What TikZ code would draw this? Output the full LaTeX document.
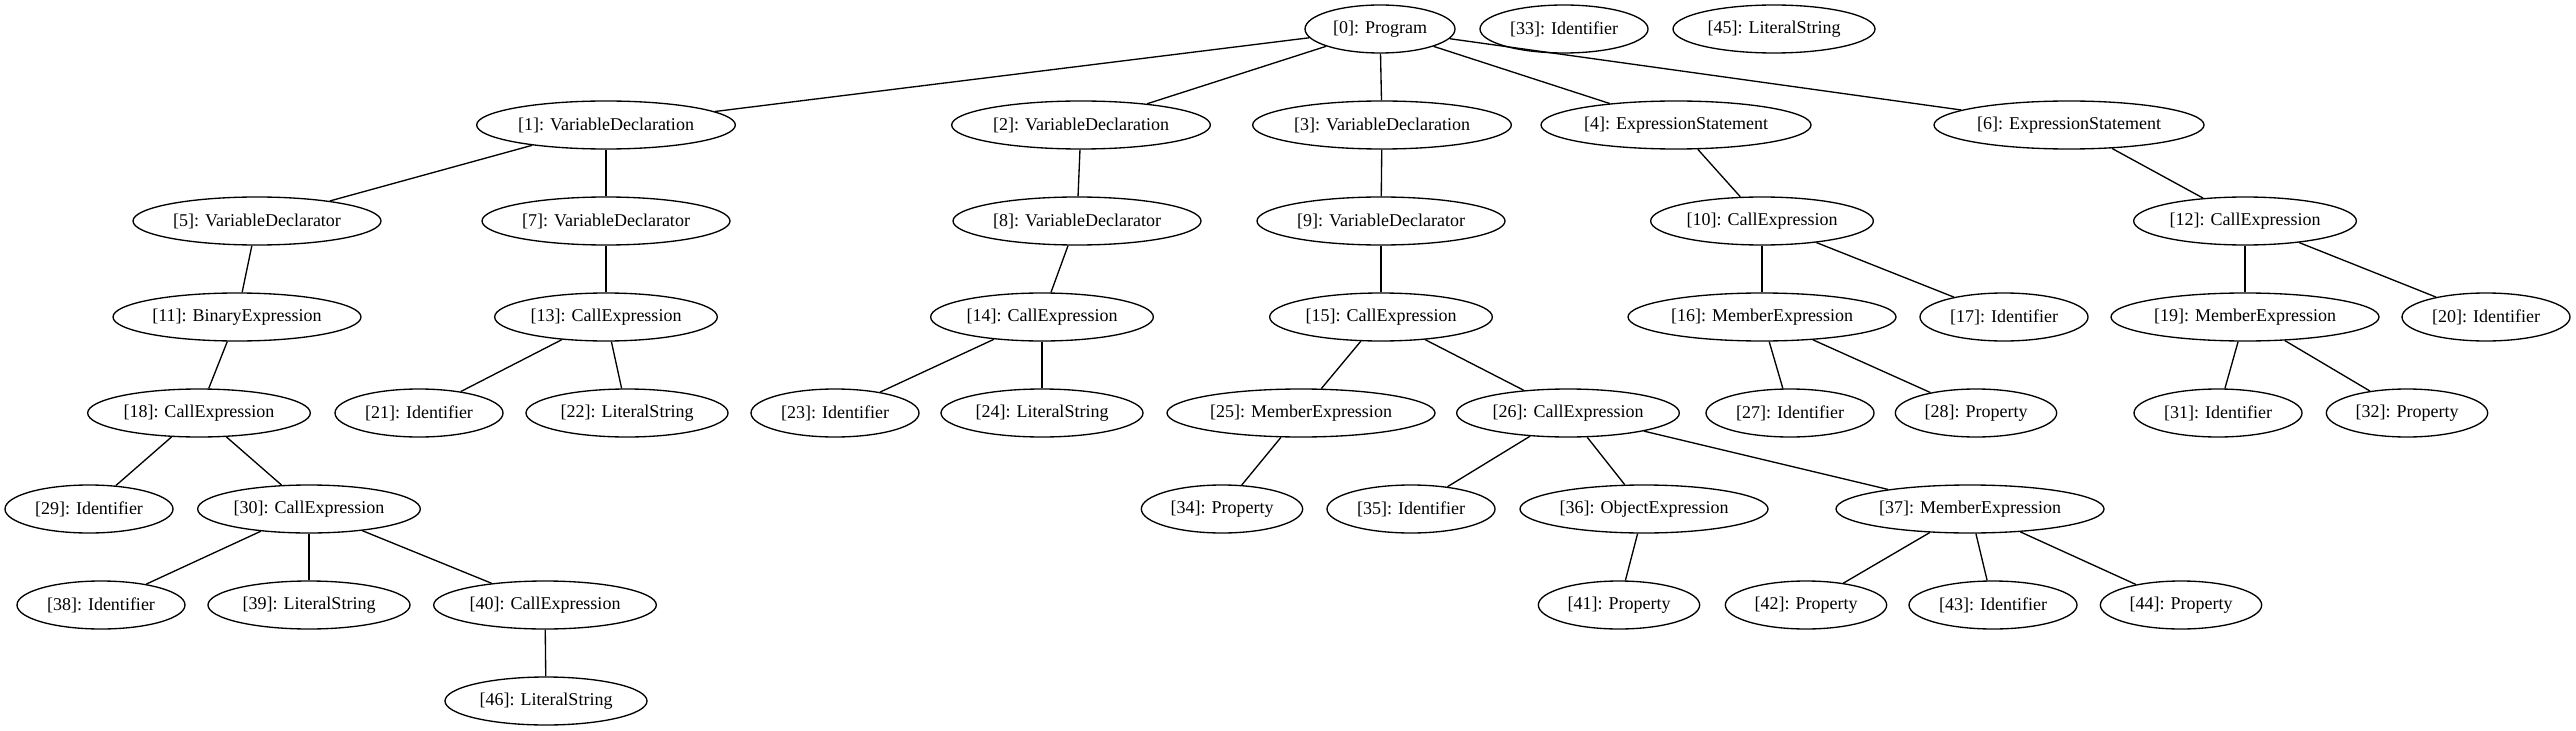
\documentclass[tikz,border=0pt]{standalone}
\usepackage{fontspec}
\setmainfont{Liberation Serif}
\usepackage{tikz}
\usetikzlibrary{shapes.geometric}

\begin{document}
\begin{tikzpicture}[
  x=0.75pt, y=-0.75pt,
  ast/.style={draw, ellipse, line width=1pt, inner sep=0pt, minimum height=36pt, font=\fontsize{13.5}{16}\selectfont},
  prog/.style={ast, minimum width=112.5pt},
  ident/.style={ast, minimum width=126pt},
  prop/.style={ast, minimum width=121pt},
  lit/.style={ast, minimum width=151.5pt},
  call/.style={ast, minimum width=167pt},
  decl/.style={ast, minimum width=186pt},
  vdecl/.style={ast, minimum width=194pt},
  member/.style={ast, minimum width=201pt},
  stmt/.style={ast, minimum width=202.5pt},
  link/.style={line width=1pt}
]
\useasboundingbox (0,0) rectangle (2576,731);

\node[prog] (n0) at (1380,29) {[0]: Program};
\node[ident] (n33) at (1564,29) {[33]: Identifier};
\node[lit] (n45) at (1774,29) {[45]: LiteralString};

\node[vdecl] (n1) at (606,125) {[1]: VariableDeclaration};
\node[vdecl] (n2) at (1081,125) {[2]: VariableDeclaration};
\node[vdecl] (n3) at (1382,125) {[3]: VariableDeclaration};
\node[stmt] (n4) at (1676,125) {[4]: ExpressionStatement};
\node[stmt] (n6) at (2069,125) {[6]: ExpressionStatement};

\node[decl] (n5) at (257,221) {[5]: VariableDeclarator};
\node[decl] (n7) at (606,221) {[7]: VariableDeclarator};
\node[decl] (n8) at (1077,221) {[8]: VariableDeclarator};
\node[decl] (n9) at (1381,221) {[9]: VariableDeclarator};
\node[call] (n10) at (1762,221) {[10]: CallExpression};
\node[call] (n12) at (2245,221) {[12]: CallExpression};

\node[decl] (n11) at (237,317) {[11]: BinaryExpression};
\node[call] (n13) at (606,317) {[13]: CallExpression};
\node[call] (n14) at (1042,317) {[14]: CallExpression};
\node[call] (n15) at (1381,317) {[15]: CallExpression};
\node[member] (n16) at (1762,317) {[16]: MemberExpression};
\node[ident] (n17) at (2004,317) {[17]: Identifier};
\node[member] (n19) at (2245,317) {[19]: MemberExpression};
\node[ident] (n20) at (2486,317) {[20]: Identifier};

\node[call] (n18) at (199,413) {[18]: CallExpression};
\node[ident] (n21) at (419,413) {[21]: Identifier};
\node[lit] (n22) at (627,413) {[22]: LiteralString};
\node[ident] (n23) at (835,413) {[23]: Identifier};
\node[lit] (n24) at (1042,413) {[24]: LiteralString};
\node[member] (n25) at (1301,413) {[25]: MemberExpression};
\node[call] (n26) at (1568,413) {[26]: CallExpression};
\node[ident] (n27) at (1790,413) {[27]: Identifier};
\node[prop] (n28) at (1976,413) {[28]: Property};
\node[ident] (n31) at (2218,413) {[31]: Identifier};
\node[prop] (n32) at (2407,413) {[32]: Property};

\node[ident] (n29) at (89,509) {[29]: Identifier};
\node[call] (n30) at (309,509) {[30]: CallExpression};
\node[prop] (n34) at (1222,509) {[34]: Property};
\node[ident] (n35) at (1411,509) {[35]: Identifier};
\node[decl] (n36) at (1644,509) {[36]: ObjectExpression};
\node[member] (n37) at (1970,509) {[37]: MemberExpression};

\node[ident] (n38) at (101,605) {[38]: Identifier};
\node[lit] (n39) at (309,605) {[39]: LiteralString};
\node[call] (n40) at (545,605) {[40]: CallExpression};
\node[prop] (n41) at (1619,605) {[41]: Property};
\node[prop] (n42) at (1806,605) {[42]: Property};
\node[ident] (n43) at (1993,605) {[43]: Identifier};
\node[prop] (n44) at (2181,605) {[44]: Property};

\node[lit] (n46) at (546,701) {[46]: LiteralString};

\draw[link] (n0) -- (n1);
\draw[link] (n0) -- (n2);
\draw[link] (n0) -- (n3);
\draw[link] (n0) -- (n4);
\draw[link] (n0) -- (n6);
\draw[link] (n1) -- (n5);
\draw[link] (n1) -- (n7);
\draw[link] (n2) -- (n8);
\draw[link] (n3) -- (n9);
\draw[link] (n4) -- (n10);
\draw[link] (n6) -- (n12);
\draw[link] (n5) -- (n11);
\draw[link] (n7) -- (n13);
\draw[link] (n8) -- (n14);
\draw[link] (n9) -- (n15);
\draw[link] (n10) -- (n16);
\draw[link] (n10) -- (n17);
\draw[link] (n12) -- (n19);
\draw[link] (n12) -- (n20);
\draw[link] (n11) -- (n18);
\draw[link] (n13) -- (n21);
\draw[link] (n13) -- (n22);
\draw[link] (n14) -- (n23);
\draw[link] (n14) -- (n24);
\draw[link] (n15) -- (n25);
\draw[link] (n15) -- (n26);
\draw[link] (n16) -- (n27);
\draw[link] (n16) -- (n28);
\draw[link] (n19) -- (n31);
\draw[link] (n19) -- (n32);
\draw[link] (n18) -- (n29);
\draw[link] (n18) -- (n30);
\draw[link] (n25) -- (n34);
\draw[link] (n26) -- (n35);
\draw[link] (n26) -- (n36);
\draw[link] (n26) -- (n37);
\draw[link] (n30) -- (n38);
\draw[link] (n30) -- (n39);
\draw[link] (n30) -- (n40);
\draw[link] (n36) -- (n41);
\draw[link] (n37) -- (n42);
\draw[link] (n37) -- (n43);
\draw[link] (n37) -- (n44);
\draw[link] (n40) -- (n46);
\end{tikzpicture}
\end{document}
